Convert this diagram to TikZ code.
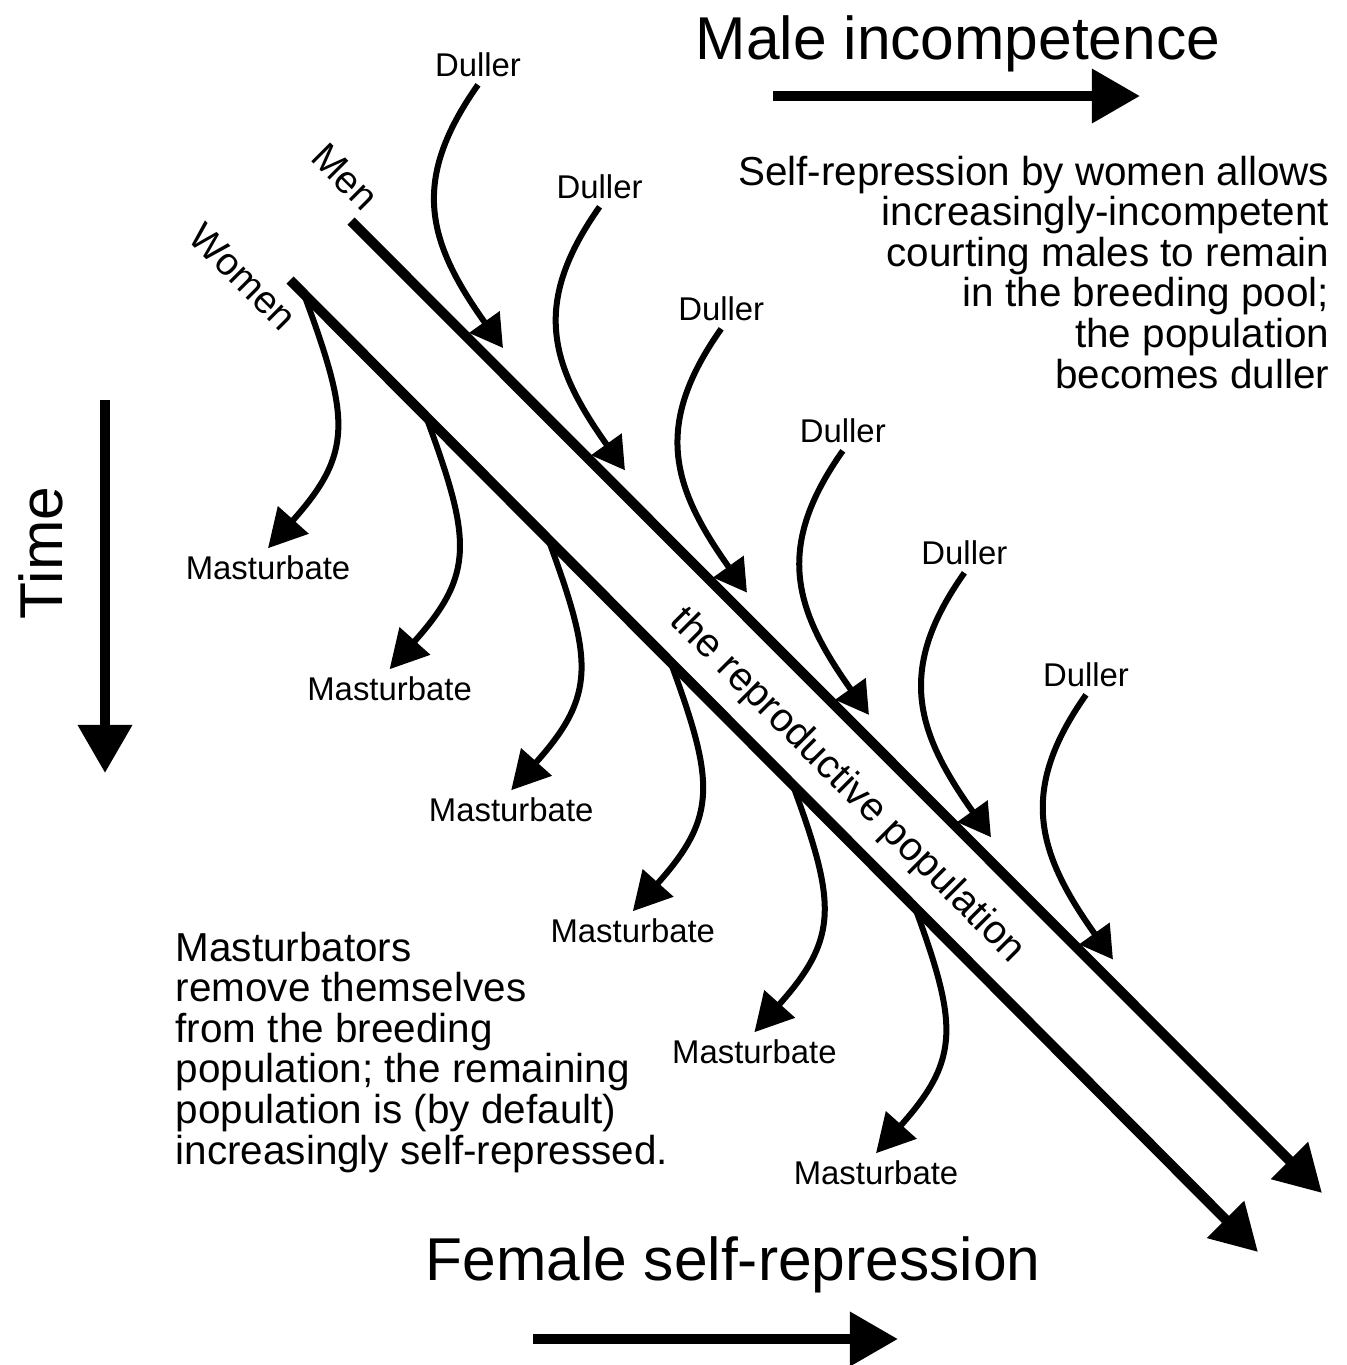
\documentclass[tikz,border=0pt]{standalone}
\usepackage{fontspec}
\setmainfont{Liberation Sans}
\usetikzlibrary{arrows.meta}

\begin{document}
\begin{tikzpicture}[x=0.01cm, y=-0.01cm,
    big/.style={font=\fontsize{17.2pt}{20pt}\selectfont, inner sep=0pt},
    para/.style={font=\fontsize{11.5pt}{11.55pt}\selectfont, inner sep=0pt},
    small/.style={font=\fontsize{9.35pt}{11pt}\selectfont, inner sep=0.07cm},
    slant/.style={rotate=-45, inner sep=0pt},
    popline/.style={line width=0.1cm, -{Triangle[length=0.46cm, width=0.5cm]}},
    axisline/.style={line width=0.1cm, -{Triangle[length=0.48cm, width=0.52cm]}},
    inline/.style={line width=0.06cm, -{Triangle[length=0.32cm, width=0.36cm]}},
    outline/.style={line width=0.06cm, -{Triangle[length=0.38cm, width=0.4cm]}}]
    \useasboundingbox (0,0) rectangle (1347,1365);

    % the two streams
    \coordinate (menA) at (351,221);
    \coordinate (menB) at (1322,1193);
    \coordinate (womA) at (290,280);
    \coordinate (womB) at (1258,1252);
    \draw[popline] (menA) -- (menB);
    \draw[popline] (womA) -- (womB);
    \node[slant, font=\fontsize{11pt}{13pt}\selectfont] (men) at (345,177) {Men};
    \node[slant, font=\fontsize{11pt}{13pt}\selectfont] (women) at (243,277) {Women};
    \node[slant, font=\fontsize{11.4pt}{13pt}\selectfont] (pop) at (847,786) {the reproductive population};

    % axes
    \node[big, anchor=base] (male) at (958,59) {Male incompetence};
    \coordinate (maleA) at (773,96);
    \coordinate (maleB) at (1140,96);
    \draw[axisline] (maleA) -- (maleB);
    \node[big, anchor=base] (female) at (733,1280) {Female self-repression};
    \coordinate (femA) at (533,1339);
    \coordinate (femB) at (898,1339);
    \draw[axisline] (femA) -- (femB);
    \node[big, anchor=base, rotate=90] (time) at (63,553) {Time};
    \coordinate (timeA) at (105,400);
    \coordinate (timeB) at (105,773);
    \draw[axisline] (timeA) -- (timeB);

    % notes
    \node[para, align=right, anchor=north east] (note1) at (1330,155)
        {Self-repression by women allows\\increasingly-incompetent\\courting males to remain\\in the breeding pool;\\the population\\becomes duller};
    \node[para, align=left, anchor=north west] (note2) at (175,931)
        {Masturbators\\remove themselves\\from the breeding\\population; the remaining\\population is (by default)\\increasingly self-repressed.};

    % arrows into and out of the streams
    \foreach \i in {0,...,5} {
        \node[small] (d\i) at ({478+121.6*\i},{65+122*\i}) {Duller};
        \coordinate (dt\i) at ({503+122*\i},{348+122.3*\i});
        \draw[inline] (d\i.south) .. controls +(-67,95) and +(-77,-108) .. (dt\i);
        \coordinate (ms\i) at ({305+121.6*\i},{297+121*\i});
        \node[small] (m\i) at ({268+121.6*\i},{568+121*\i}) {Masturbate};
        \draw[outline] (ms\i) .. controls +(45,122) and +(85,-95) .. (m\i.north);
    }
\end{tikzpicture}
\end{document}
